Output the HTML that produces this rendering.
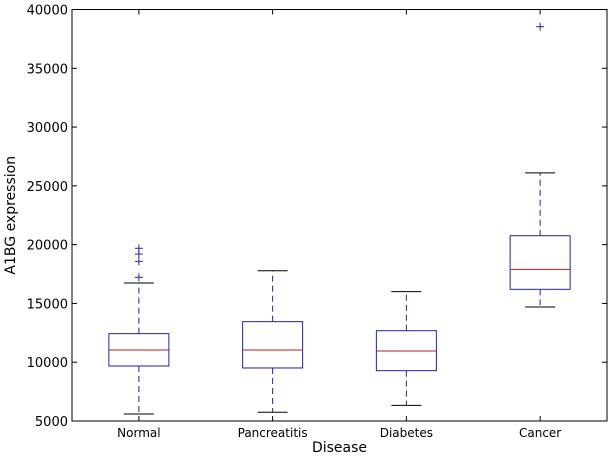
<!DOCTYPE html>
<html><head><meta charset="utf-8"><style>
body{margin:0;background:#fff;}
text{font-family:"DejaVu Sans","Liberation Sans",sans-serif;}
</style></head><body>
<svg id="chart" width="615" height="456" xmlns="http://www.w3.org/2000/svg"></svg>
<script>
const categories=["Normal","Pancreatitis","Diabetes","Cancer"];
const lowWhisker=[5600,5740,6330,14700];
const q1=[9680,9510,9280,16200];
const medians=[11040,11040,10950,17900];
const q3=[12430,13450,12680,20760];
const highWhisker=[16740,17780,16000,26100];
const outliers=[[17220,18580,19200,19690],[],[],[38540]];
const yTicks=[5000,10000,15000,20000,25000,30000,35000,40000];

const L=72,R=607,T=9.5,B=421,yMin=5000,yMax=40000;
const svg=document.getElementById('chart');
const NS='http://www.w3.org/2000/svg';
function y(v){return B-(v-yMin)/(yMax-yMin)*(B-T);}
function x(i){return L+(R-L)/categories.length*(i+0.5);}
function el(tag,attrs,parent){const e=document.createElementNS(NS,tag);for(const k in attrs)e.setAttribute(k,attrs[k]);(parent||svg).appendChild(e);return e;}

const frame=el('rect',{x:L,y:T,width:R-L,height:B-T,fill:'none',stroke:'#000','stroke-width':1});



yTicks.forEach(v=>{
  const g=el('g',{});
  
  
  el('line',{x1:L,x2:L+5,y1:y(v),y2:y(v),stroke:'#000'},g);
  el('line',{x1:R,x2:R-5,y1:y(v),y2:y(v),stroke:'#000'},g);
  const t=el('text',{x:L-4,y:y(v)+5,'text-anchor':'end','font-size':13,fill:'#000'},g);
  t.textContent=v;
});

categories.forEach((c,i)=>{
  const cx=x(i);
  const g=el('g',{});
  
  
  el('line',{x1:cx,x2:cx,y1:B,y2:B-5,stroke:'#000'},g);
  el('line',{x1:cx,x2:cx,y1:T,y2:T+5,stroke:'#000'},g);
  const t=el('text',{x:cx,y:B+16,'text-anchor':'middle','font-size':12,fill:'#000'},g);
  t.textContent=c;
  el('line',{x1:cx,x2:cx,y1:y(q3[i]),y2:y(highWhisker[i]),stroke:'#2222aa','stroke-dasharray':'6,4'},g);
  el('line',{x1:cx,x2:cx,y1:y(q1[i]),y2:y(lowWhisker[i]),stroke:'#2222aa','stroke-dasharray':'6,4'},g);
  el('line',{x1:cx-15,x2:cx+15,y1:y(highWhisker[i]),y2:y(highWhisker[i]),stroke:'#000'},g);
  el('line',{x1:cx-15,x2:cx+15,y1:y(lowWhisker[i]),y2:y(lowWhisker[i]),stroke:'#000'},g);
  el('rect',{x:cx-30,y:y(q3[i]),width:60,height:y(q1[i])-y(q3[i]),fill:'none',stroke:'#2222aa'},g);
  el('line',{x1:cx-30,x2:cx+30,y1:y(medians[i]),y2:y(medians[i]),stroke:'#b02020'},g);
  outliers[i].forEach(v=>{
    el('line',{x1:cx-4,x2:cx+4,y1:y(v),y2:y(v),stroke:'#2222aa'},g);
    el('line',{x1:cx,x2:cx,y1:y(v)-4,y2:y(v)+4,stroke:'#2222aa'},g);
  });
});

const xl=el('text',{x:(L+R)/2,y:452,'text-anchor':'middle','font-size':14,fill:'#000'});


xl.textContent='Disease';
const yl=el('text',{x:0,y:0,'text-anchor':'middle','font-size':14,fill:'#000',transform:'translate(15,'+((T+B)/2)+') rotate(-90)'});


yl.textContent='A1BG expression';
</script>
</body></html>
